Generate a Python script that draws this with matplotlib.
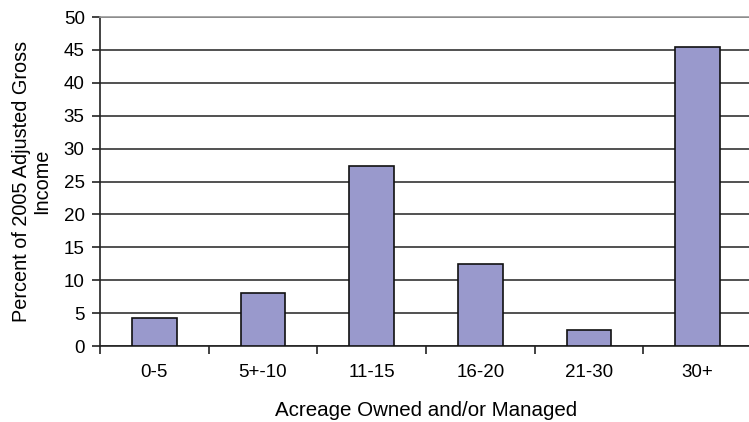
import numpy as np
import matplotlib.pyplot as plt

plt.rcParams['font.family'] = ['Liberation Sans', 'DejaVu Sans']

categories = ['0-5', '5+-10', '11-15', '16-20', '21-30', '30+']
percent_agi = [4.2, 8.0, 27.3, 12.5, 2.5, 45.5]
y_ticks = [0, 5, 10, 15, 20, 25, 30, 35, 40, 45, 50]

fig = plt.figure(figsize=(7.49, 4.22), dpi=100)
ax = fig.add_axes([0.1335, 0.18, 0.8705, 0.7797])

x = np.arange(len(categories))
ax.bar(x, percent_agi, width=0.41, color='#9999cc', edgecolor='#111111',
       linewidth=1.2, zorder=3)

ax.set_xlim(-0.5, len(categories) - 0.5)
ax.set_ylim(0, 50)
ax.set_yticks(y_ticks)
ax.yaxis.grid(True, color='#222222', linewidth=1.1, zorder=0)
ax.set_axisbelow(True)

ax.set_xticks(x)
ax.set_xticklabels(categories)
ax.set_xticks(np.arange(len(categories) + 1) - 0.5, minor=True)
ax.tick_params(axis='x', which='major', length=0, pad=13, labelsize=13.5)
ax.tick_params(axis='x', which='minor', length=6, width=1.2, color='#222222')
ax.tick_params(axis='y', length=6, width=1.2, color='#222222', pad=5,
               labelsize=13.5)

ax.spines['right'].set_visible(False)
ax.spines['top'].set_color('#999999')
ax.spines['top'].set_linewidth(1.2)
for side in ['left', 'bottom']:
    ax.spines[side].set_color('#222222')
    ax.spines[side].set_linewidth(1.2)

ax.set_xlabel('Acreage Owned and/or Managed', fontsize=14.8, labelpad=14)
ax.set_ylabel('Percent of 2005 Adjusted Gross\nIncome', fontsize=14.3,
              labelpad=9, linespacing=1.05)

fig.savefig('out.png', dpi=100)
